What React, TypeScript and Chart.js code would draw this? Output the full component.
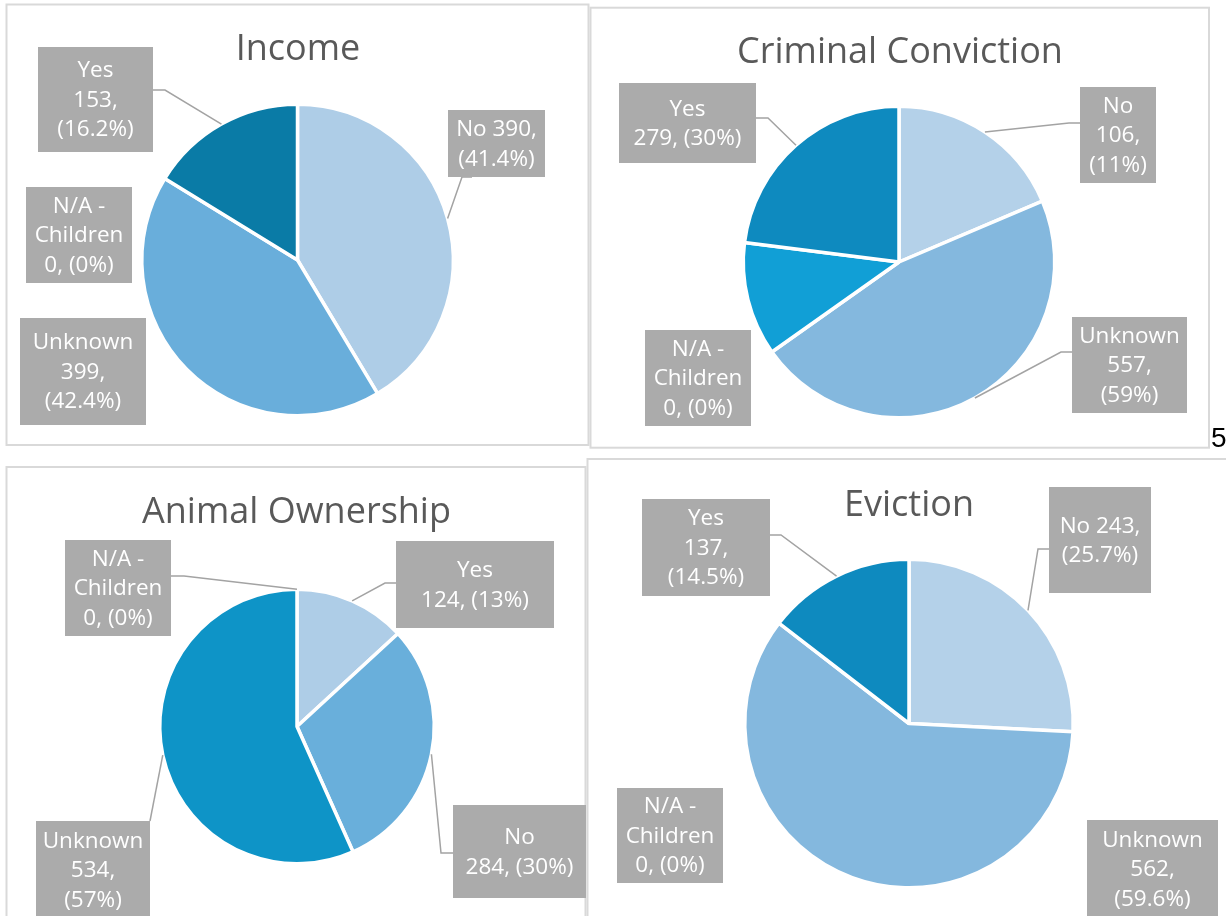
import { useEffect, useRef } from "react";
import { Chart, registerables } from "chart.js";

Chart.register(...registerables);

const W = 1226;
const H = 916;

// ---------- Data ----------
const incomeCategories = ["No", "Unknown", "N/A - Children", "Yes"];
const incomeValues = [390, 399, 0, 153];
const incomePercents = ["41.4%", "42.4%", "0%", "16.2%"];

const criminalCategories = ["No", "Unknown", "N/A - Children", "Yes"];
const criminalValues = [106, 557, 0, 279];
const criminalPercents = ["11%", "59%", "0%", "30%"];
// The slices drawn in the reference do not follow its own labels; these are the drawn shares (%)
const criminalDrawnShares = [18.6, 46.6, 11.8, 23.0];

const animalCategories = ["Yes", "No", "Unknown", "N/A - Children"];
const animalValues = [124, 284, 534, 0];
const animalPercents = ["13%", "30%", "57%", "0%"];

const evictionCategories = ["No", "Unknown", "N/A - Children", "Yes"];
const evictionValues = [243, 562, 0, 137];
const evictionPercents = ["25.7%", "59.6%", "0%", "14.5%"];

// ---------- Layout / style ----------
type LabelLayout = {
  box: [number, number, number, number];
  wrap: number[];
  leader?: [number, number, number]; // anchor x, anchor y, elbow length
};

type PanelSpec = {
  title: string;
  titleX: number;
  titleY: number;
  frame: [number, number, number, number];
  cx: number;
  cy: number;
  r: number;
  categories: string[];
  values: number[];
  percents: string[];
  slices: number[];
  colors: string[];
  labels: LabelLayout[];
  extra?: (ctx: CanvasRenderingContext2D) => void;
};

const LIGHT = "#B4D1E9";
const MID = "#84B8DE";
const DARK = "#0E8ABF";

const panels: PanelSpec[] = [
  {
    title: "Income",
    titleX: 298,
    titleY: 60,
    frame: [6.5, 4.5, 588.5, 445],
    cx: 297.5,
    cy: 260,
    r: 154,
    categories: incomeCategories,
    values: incomeValues,
    percents: incomePercents,
    slices: incomeValues,
    colors: ["#AECDE7", "#69AEDB", "#12A0D6", "#0A7BA6"],
    labels: [
      { box: [448, 110, 97, 67], wrap: [2, 1], leader: [472, 177, -10] },
      { box: [20, 318, 126, 107], wrap: [1, 1, 1] },
      { box: [26, 187, 106, 96], wrap: [2, 1, 2] },
      { box: [38, 47, 115, 105], wrap: [1, 1, 1], leader: [153, 90, 12] },
    ],
  },
  {
    title: "Criminal Conviction",
    titleX: 900,
    titleY: 63,
    frame: [590.5, 7.7, 1209, 447.7],
    cx: 899,
    cy: 262,
    r: 154,
    categories: criminalCategories,
    values: criminalValues,
    percents: criminalPercents,
    slices: criminalDrawnShares,
    colors: [LIGHT, MID, "#119FD6", DARK],
    labels: [
      { box: [1080, 87, 76, 96], wrap: [1, 1, 1], leader: [1080, 123, -11] },
      { box: [1072, 317, 115, 96], wrap: [1, 1, 1], leader: [1072, 352, -11] },
      { box: [645, 330, 106, 96], wrap: [2, 1, 2] },
      { box: [619, 83, 137, 80], wrap: [1, 2], leader: [756, 118, 12] },
    ],
    extra: (ctx) => {
      ctx.save();
      ctx.fillStyle = "#000000";
      ctx.font = '28px "Liberation Sans"';
      ctx.textAlign = "left";
      ctx.textBaseline = "alphabetic";
      ctx.fillText("5", 1211, 447);
      ctx.restore();
    },
  },
  {
    title: "Animal Ownership",
    titleX: 296.5,
    titleY: 523,
    frame: [6.5, 467, 585.5, 1000],
    cx: 297,
    cy: 726.5,
    r: 135.5,
    categories: animalCategories,
    values: animalValues,
    percents: animalPercents,
    slices: animalValues,
    colors: ["#AECDE7", "#69AFDB", "#0E94C7", "#12A0D6"],
    labels: [
      { box: [396, 541, 158, 87], wrap: [1, 2], leader: [396, 583, -11] },
      { box: [453, 805, 133, 93], wrap: [1, 2], leader: [453, 853, -12] },
      { box: [36, 821, 114, 98], wrap: [1, 1, 1], leader: [150, 821, 0] },
      { box: [65, 540, 106, 96], wrap: [2, 1, 2], leader: [171, 576, 13] },
    ],
  },
  {
    title: "Eviction",
    titleX: 909,
    titleY: 516,
    frame: [587.5, 459, 1300, 1000],
    cx: 909,
    cy: 723.5,
    r: 162.5,
    categories: evictionCategories,
    values: evictionValues,
    percents: evictionPercents,
    slices: evictionValues,
    colors: [LIGHT, MID, "#119FD6", DARK],
    labels: [
      { box: [1049, 487, 102, 106], wrap: [2, 1], leader: [1049, 549, -11] },
      { box: [1087, 820, 131, 98], wrap: [1, 1, 1] },
      { box: [617, 788, 106, 95], wrap: [2, 1, 2] },
      { box: [642, 499, 128, 97], wrap: [1, 1, 1], leader: [770, 535, 11] },
    ],
  },
];

const LABEL_FONT = '22.5px "Open Sans"';
const TITLE_FONT = '36px "Open Sans"';
const LINE_H = 29.5;

function labelLines(cat: string, value: number, pct: string, wrap: number[]): string[] {
  const tokens = [...cat.split(" "), `${value},`, `(${pct})`];
  const out: string[] = [];
  let k = 0;
  for (const n of wrap) {
    out.push(tokens.slice(k, k + n).join(" "));
    k += n;
  }
  if (k < tokens.length) out.push(tokens.slice(k).join(" "));
  return out;
}

function makePlugin(spec: PanelSpec) {
  return {
    id: "panelDecor",
    beforeDraw(chart: any) {
      const ctx: CanvasRenderingContext2D = chart.ctx;
      const [l, t, r, b] = spec.frame;
      ctx.save();
      ctx.strokeStyle = "#D9D9D9";
      ctx.lineWidth = 2;
      ctx.strokeRect(l, t, r - l, b - t);
      ctx.fillStyle = "#595959";
      ctx.font = TITLE_FONT;
      ctx.textAlign = "center";
      ctx.textBaseline = "alphabetic";
      ctx.fillText(spec.title, spec.titleX, spec.titleY);
      ctx.restore();
    },
    afterDatasetsDraw(chart: any) {
      const ctx: CanvasRenderingContext2D = chart.ctx;
      const meta = chart.getDatasetMeta(0);
      ctx.save();
      spec.labels.forEach((lab, i) => {
        if (lab.leader) {
          const arc = meta.data[i];
          const p = arc.getProps(["x", "y", "startAngle", "endAngle", "outerRadius"], true);
          const mid = (p.startAngle + p.endAngle) / 2;
          const ex = p.x + Math.cos(mid) * p.outerRadius;
          const ey = p.y + Math.sin(mid) * p.outerRadius;
          const [ax, ay, elbow] = lab.leader;
          ctx.strokeStyle = "#A3A3A3";
          ctx.lineWidth = 1.5;
          ctx.beginPath();
          ctx.moveTo(ax, ay);
          ctx.lineTo(ax + elbow, ay);
          ctx.lineTo(ex, ey);
          ctx.stroke();
        }
      });
      spec.labels.forEach((lab, i) => {
        const [x, y, w, h] = lab.box;
        ctx.fillStyle = "#ABABAB";
        ctx.fillRect(x, y, w, h);
        const lines = labelLines(spec.categories[i], spec.values[i], spec.percents[i], lab.wrap);
        ctx.fillStyle = "#FFFFFF";
        ctx.font = LABEL_FONT;
        ctx.textAlign = "center";
        ctx.textBaseline = "middle";
        const cy = y + h / 2;
        lines.forEach((ln, j) => {
          ctx.fillText(ln, x + w / 2, cy + (j - (lines.length - 1) / 2) * LINE_H + 1);
        });
      });
      if (spec.extra) spec.extra(ctx);
      ctx.restore();
    },
  };
}

function PiePanel({ spec }: { spec: PanelSpec }) {
  const ref = useRef<HTMLCanvasElement | null>(null);
  useEffect(() => {
    if (!ref.current) return;
    const half = 100;
    const chart = new Chart(ref.current, {
      type: "pie",
      data: {
        labels: spec.categories,
        datasets: [
          {
            data: spec.slices,
            backgroundColor: spec.colors,
            borderColor: "#FFFFFF",
            borderWidth: 3.5,
            radius: spec.r + 1.75,
          } as any,
        ],
      },
      options: {
        responsive: false,
        animation: false,
        devicePixelRatio: 1,
        events: [],
        layout: {
          padding: {
            left: spec.cx - half,
            right: W - spec.cx - half,
            top: spec.cy - half,
            bottom: H - spec.cy - half,
          },
        },
        plugins: {
          legend: { display: false },
          tooltip: { enabled: false },
          title: { display: false },
        },
      },
      plugins: [makePlugin(spec)],
    });
    return () => chart.destroy();
  }, [spec]);
  return (
    <canvas
      ref={ref}
      width={W}
      height={H}
      style={{ position: "absolute", left: 0, top: 0, width: W, height: H }}
    />
  );
}

export default function App() {
  return (
    <div
      style={{
        position: "absolute",
        left: 0,
        top: 0,
        width: W,
        height: H,
        background: "#FFFFFF",
        overflow: "hidden",
      }}
    >
      {panels.map((p) => (
        <PiePanel key={p.title} spec={p} />
      ))}
    </div>
  );
}
